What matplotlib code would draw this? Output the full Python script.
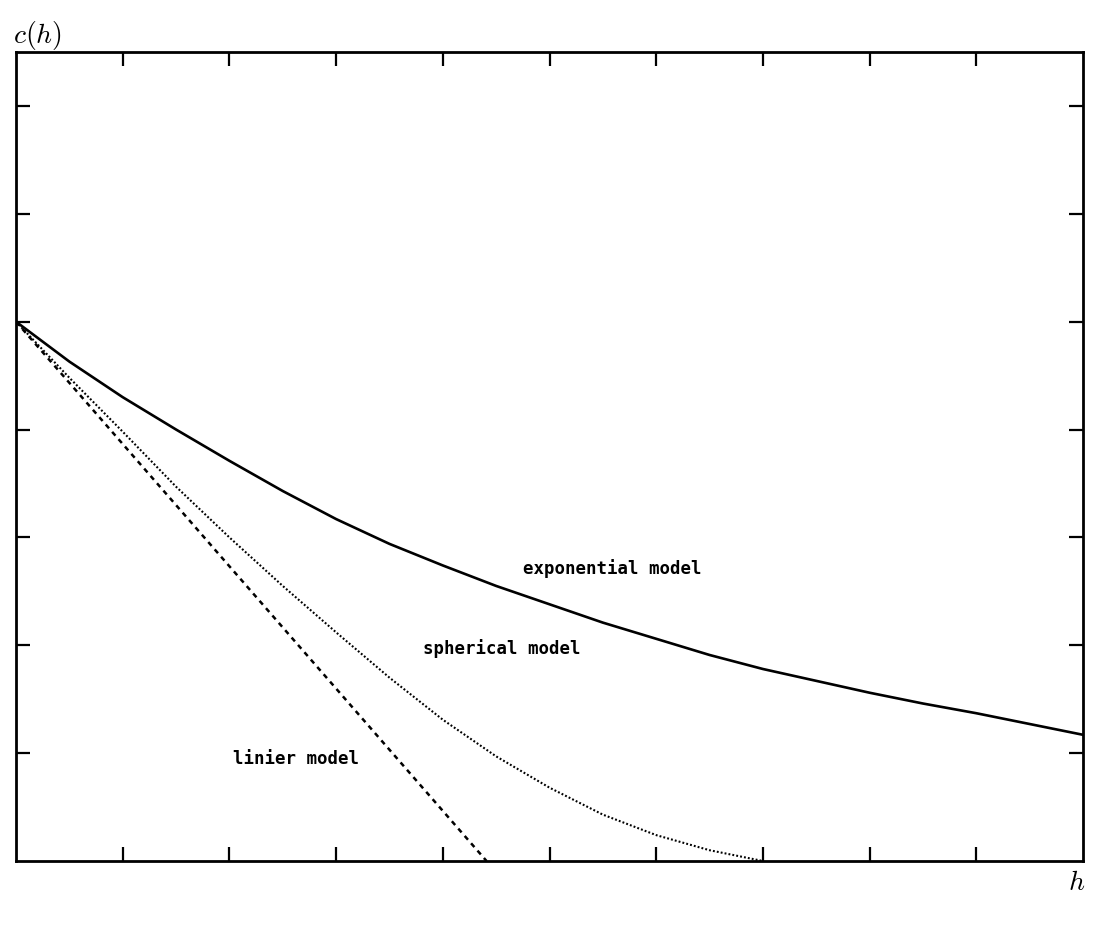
import matplotlib
matplotlib.use("Agg")
import matplotlib.pyplot as plt

plt.rcParams['mathtext.fontset'] = 'cm'

# distances h
exp_h = [0, 0.5, 1, 1.5, 2, 2.5, 3, 3.5, 4, 4.5, 5, 5.5, 6, 6.5, 7, 7.5, 8, 8.5, 9, 9.5, 10]
exp_c = [5.0, 4.63, 4.30, 4.00, 3.71, 3.43, 3.17, 2.94, 2.74, 2.55, 2.38, 2.21, 2.06, 1.91, 1.78, 1.67, 1.56, 1.46, 1.37, 1.27, 1.17]

sph_h = [0, 0.5, 1, 1.5, 2, 2.5, 3, 3.5, 4, 4.5, 5, 5.5, 6, 6.5, 6.85, 7.0]
sph_c = [5.0, 4.48, 3.98, 3.47, 3.00, 2.55, 2.12, 1.70, 1.31, 0.97, 0.68, 0.43, 0.24, 0.10, 0.03, 0.0]

lin_h = [0, 4.41]
lin_c = [5.0, 0.0]

labels = ["exponential model", "spherical model", "linier model"]
label_pos = [(5.59, 2.71), (4.55, 1.97), (2.62, 0.95)]

fig = plt.figure(figsize=(10.96, 9.26), dpi=100)
ax = fig.add_axes([16/1096, 65/926, 1067/1096, 809/926])

ax.plot(exp_h, exp_c, color='black', lw=1.9, solid_capstyle='round', solid_joinstyle='round')
ax.plot(sph_h, sph_c, color='black', lw=1.5, linestyle=(0, (0.9, 1.0)))
ax.plot(lin_h, lin_c, color='black', lw=1.8, linestyle=(0, (2.0, 1.9)))

for t, (x, y) in zip(labels, label_pos):
    ax.text(x, y, t, family='DejaVu Sans Mono', fontsize=12.5, fontweight='bold',
            ha='center', va='center', color='black')

ax.set_xlim(0, 10)
ax.set_ylim(0, 7.5)
ax.set_xticks(range(1, 10))
ax.set_yticks(range(1, 8))
ax.tick_params(direction='in', length=10, width=1.6, top=True, right=True,
               labelbottom=False, labelleft=False)
for s in ax.spines.values():
    s.set_linewidth(2.0)

fig.text(13/1096, 1 - 35/926, r'$c(h)$', fontsize=20, ha='left', va='center')
fig.text(1085/1096, 1 - 882/926, r'$h$', fontsize=20, ha='right', va='center')

fig.savefig('out.png', dpi=100, facecolor='white')
